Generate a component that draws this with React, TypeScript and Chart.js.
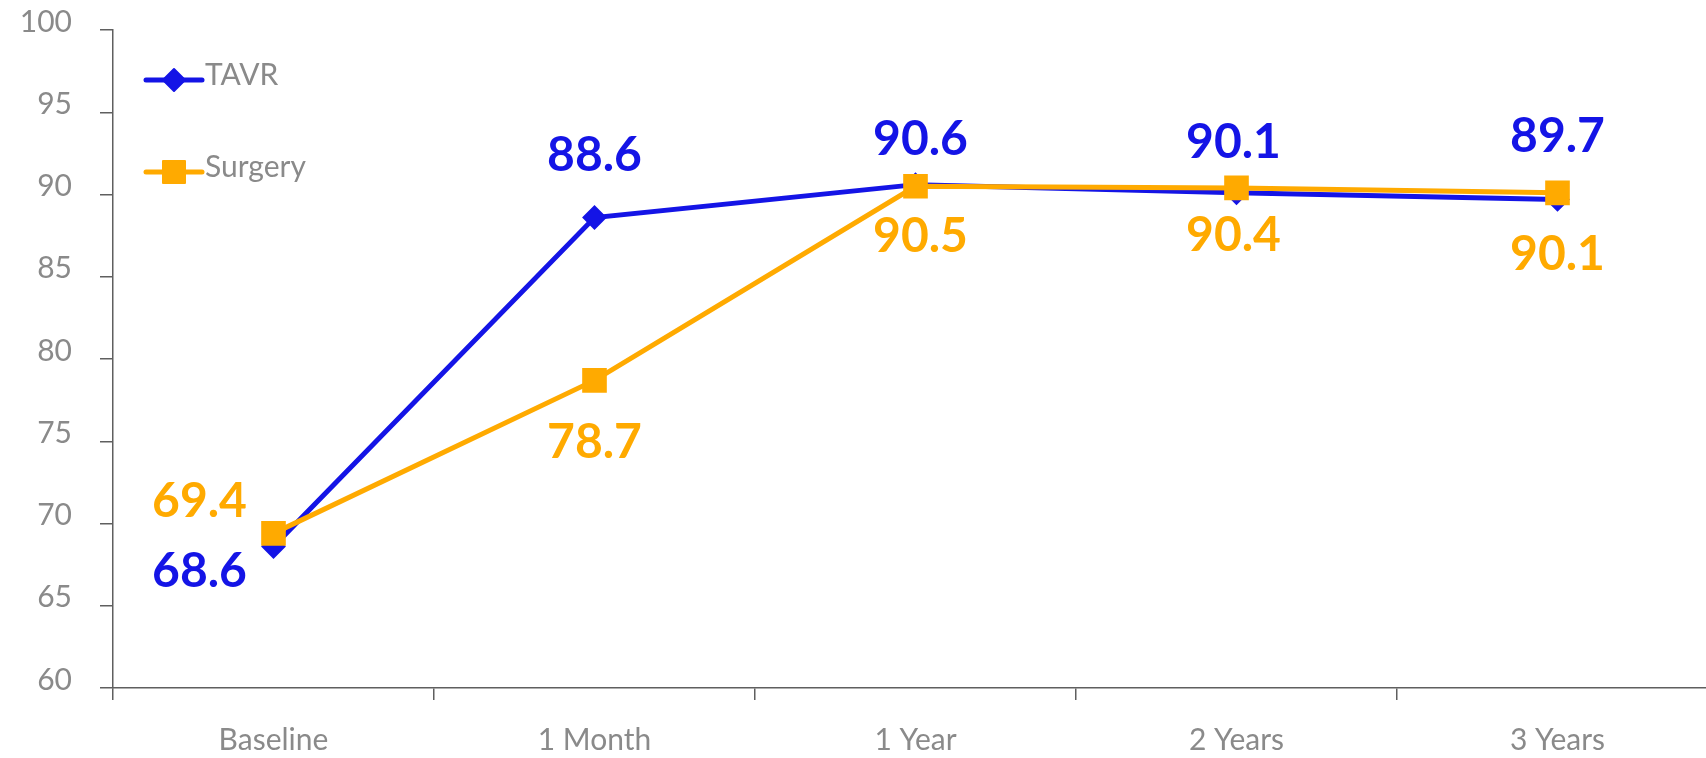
import React, { useEffect, useRef } from 'react';
import { Chart, registerables } from 'chart.js';

Chart.register(...registerables);

const categories = ['Baseline', '1 Month', '1 Year', '2 Years', '3 Years'];
const tavrValues = [68.6, 88.6, 90.6, 90.1, 89.7];
const surgeryValues = [69.4, 78.7, 90.5, 90.4, 90.1];
const yMin = 60;
const yMax = 100;
const yStep = 5;

const BLUE = '#1414E6';
const ORANGE = '#FFAA00';
const AXIS = '#5f5f5f';
const TEXT = '#8a8a8a';
const FONT = 'Lato, "Noto Sans", sans-serif';

// label placement (style): [dx, dy of text baseline] per point
const labelPlacement: Record<number, [number, number][]> = {
  0: [[-74, 40], [0, -47], [5, -30], [-3, -35], [0, -47]],
  1: [[-74, -16], [0, 78], [5, 66], [-3, 63], [0, 77]],
};

function drawMarker(ctx: CanvasRenderingContext2D, style: string, x: number, y: number, color: string) {
  ctx.save();
  ctx.fillStyle = color;
  ctx.strokeStyle = color;
  ctx.lineWidth = 2;
  ctx.lineJoin = 'round';
  ctx.beginPath();
  if (style === 'rectRot') {
    const r = 11;
    ctx.moveTo(x - r, y);
    ctx.lineTo(x, y - r);
    ctx.lineTo(x + r, y);
    ctx.lineTo(x, y + r);
    ctx.closePath();
  } else {
    const s = 11;
    ctx.rect(x - s, y - s, 2 * s, 2 * s);
  }
  ctx.fill();
  ctx.stroke();
  ctx.restore();
}

const customLegend = {
  id: 'customLegend',
  afterDraw(chart: any) {
    const ctx = chart.ctx as CanvasRenderingContext2D;
    const x0 = 146;
    const x1 = 202;
    const ys = [80, 172];
    chart.data.datasets.forEach((ds: any, i: number) => {
      const y = ys[i];
      ctx.save();
      ctx.strokeStyle = ds.borderColor;
      ctx.lineWidth = 5;
      ctx.lineCap = 'round';
      ctx.beginPath();
      ctx.moveTo(x0, y);
      ctx.lineTo(x1, y);
      ctx.stroke();
      ctx.restore();
      drawMarker(ctx, ds.pointStyle, (x0 + x1) / 2, y, ds.borderColor);
      ctx.save();
      ctx.fillStyle = TEXT;
      ctx.font = `30px ${FONT}`;
      ctx.textAlign = 'left';
      ctx.textBaseline = 'alphabetic';
      ctx.fillText(ds.label, 205, y + 5);
      ctx.restore();
    });
  },
};

const valueLabels = {
  id: 'valueLabels',
  afterDatasetsDraw(chart: any) {
    const ctx = chart.ctx as CanvasRenderingContext2D;
    chart.data.datasets.forEach((ds: any, di: number) => {
      const meta = chart.getDatasetMeta(di);
      meta.data.forEach((pt: any, i: number) => {
        const [dx, dy] = labelPlacement[di][i];
        ctx.save();
        ctx.fillStyle = ds.borderColor;
        ctx.font = `bold 48px ${FONT}`;
        ctx.textAlign = 'center';
        ctx.textBaseline = 'alphabetic';
        ctx.fillText(ds.data[i].toFixed(1), pt.x + dx, pt.y + dy);
        ctx.restore();
      });
    });
  },
};

export default function App() {
  const canvasRef = useRef<HTMLCanvasElement | null>(null);

  useEffect(() => {
    document.body.style.margin = '0';
    const canvas = canvasRef.current;
    if (!canvas) return;
    const chart = new Chart(canvas, {
      type: 'line',
      data: {
        labels: categories,
        datasets: [
          {
            label: 'TAVR',
            data: tavrValues,
            borderColor: BLUE,
            backgroundColor: BLUE,
            borderWidth: 5,
            pointStyle: 'rectRot',
            pointRadius: 11,
            pointHoverRadius: 11,
            pointBorderWidth: 2,
            pointBackgroundColor: BLUE,
            pointBorderColor: BLUE,
            tension: 0,
            order: 1,
          },
          {
            label: 'Surgery',
            data: surgeryValues,
            borderColor: ORANGE,
            backgroundColor: ORANGE,
            borderWidth: 5,
            pointStyle: 'rect',
            pointRadius: 16,
            pointHoverRadius: 16,
            pointBorderWidth: 2,
            pointBackgroundColor: ORANGE,
            pointBorderColor: ORANGE,
            tension: 0,
            order: 0,
          },
        ],
      },
      options: {
        responsive: false,
        animation: false,
        devicePixelRatio: 1,
        events: [],
        layout: { autoPadding: false, padding: { top: 30, right: 0, left: 0, bottom: 0 } },
        plugins: {
          legend: { display: false },
          tooltip: { enabled: false },
        },
        scales: {
          x: {
            offset: true,
            grid: {
              offset: true,
              drawOnChartArea: false,
              drawTicks: true,
              tickLength: 12,
              color: AXIS,
              lineWidth: 1.5,
            },
            border: { display: true, color: AXIS, width: 1.5 },
            ticks: {
              color: TEXT,
              font: { family: FONT, size: 30 },
              padding: 22,
              maxRotation: 0,
            },
            afterFit: (scale: any) => {
              scale.height = 70;
              scale.paddingLeft = 0;
              scale.paddingRight = 0;
            },
          },
          y: {
            min: yMin,
            max: yMax,
            grid: {
              drawOnChartArea: false,
              drawTicks: true,
              tickLength: 13,
              color: AXIS,
              lineWidth: 1.5,
            },
            border: { display: true, color: AXIS, width: 1.5 },
            ticks: {
              stepSize: yStep,
              color: TEXT,
              font: { family: FONT, size: 30 },
              padding: 28,
              labelOffset: -8,
            },
            afterFit: (scale: any) => {
              scale.width = 113;
              scale.paddingTop = 0;
              scale.paddingBottom = 0;
            },
          },
        },
      },
      plugins: [valueLabels, customLegend],
    });
    return () => chart.destroy();
  }, []);

  return (
    <div style={{ position: 'fixed', left: 0, top: 0, width: 1706, height: 758, background: '#fff', overflow: 'hidden' }}>
      <canvas ref={canvasRef} width={1718} height={758} style={{ width: 1718, height: 758, display: 'block' }} />
    </div>
  );
}
